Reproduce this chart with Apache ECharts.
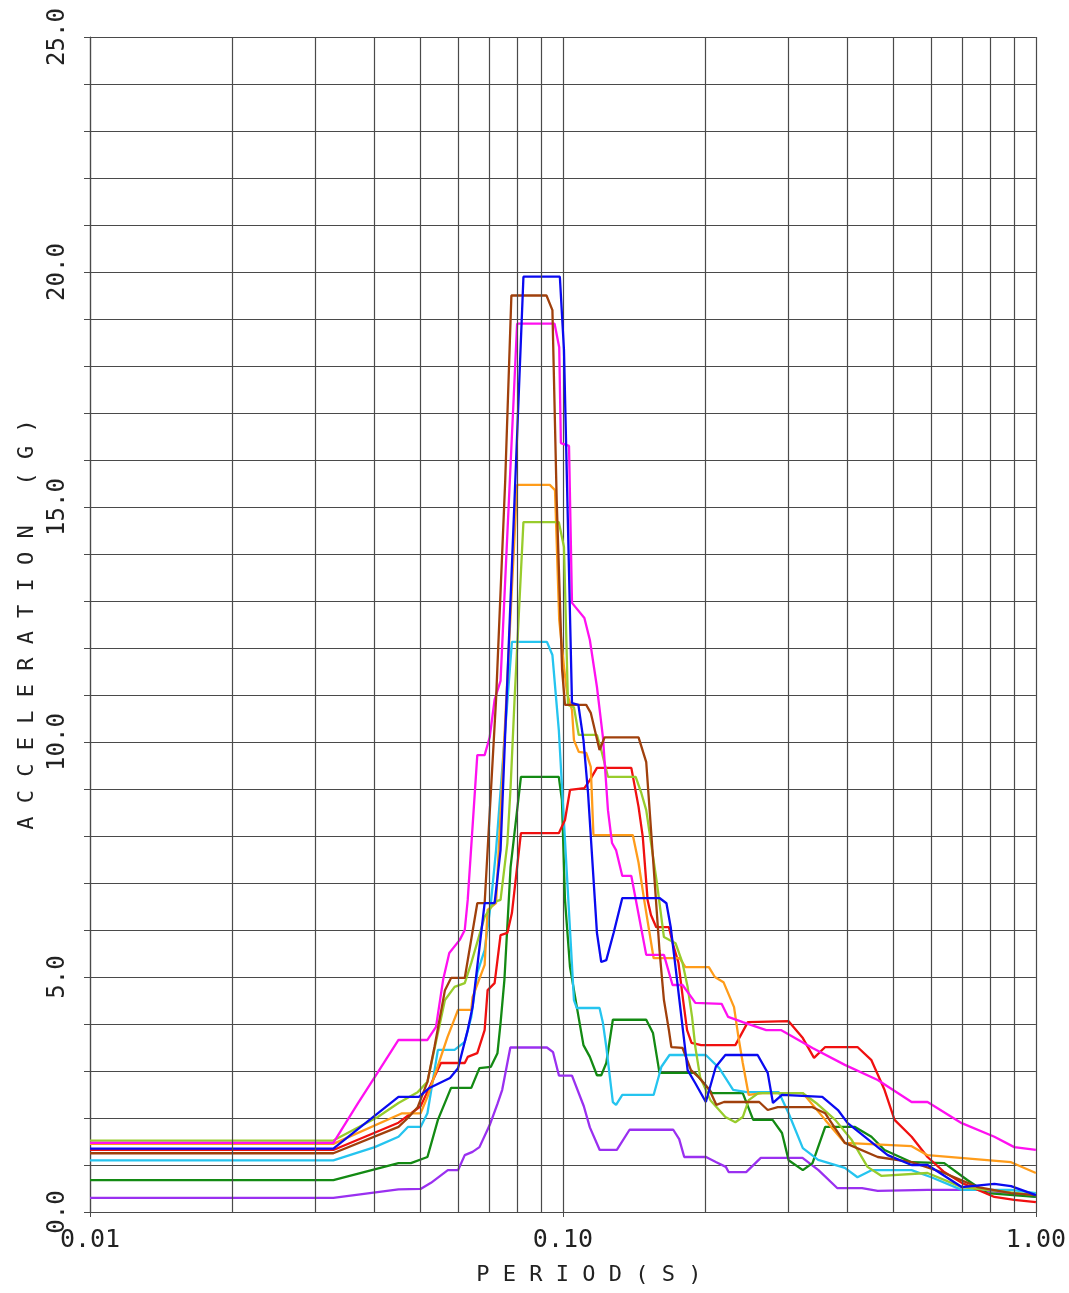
<!DOCTYPE html>
<html>
<head>
<meta charset="utf-8">
<title>Response spectra</title>
<script src="https://cdn.jsdelivr.net/npm/echarts@6/dist/echarts.min.js"></script>
<style>
  html, body { margin: 0; padding: 0; background: #ffffff; }
  #chart { width: 1069px; height: 1293px; }
</style>
</head>
<body>
<div id="chart"></div>
<script>
// Spectral acceleration (G) versus period (s), one [period, acceleration] list per record
const magenta = [[0.01,1.47],[0.0327,1.47],[0.0369,2.32],[0.04,2.87],[0.0449,3.66],[0.0517,3.66],[0.0539,3.94],[0.0558,4.94],[0.0575,5.51],[0.0605,5.79],[0.062,6.0],[0.0629,6.64],[0.0659,9.72],[0.0683,9.72],[0.07,10.1],[0.0717,10.9],[0.0738,11.3],[0.08,18.9],[0.096,18.9],[0.0982,18.4],[0.099,16.36],[0.103,16.3],[0.1045,12.96],[0.111,12.64],[0.114,12.17],[0.118,11.17],[0.1215,10.1],[0.1245,8.55],[0.127,7.85],[0.1295,7.7],[0.1335,7.15],[0.1395,7.15],[0.15,5.47],[0.1635,5.47],[0.1705,4.83],[0.179,4.83],[0.1875,4.55],[0.1905,4.45],[0.2165,4.43],[0.2235,4.15],[0.24,4.04],[0.269,3.87],[0.289,3.87],[0.337,3.49],[0.3945,3.13],[0.463,2.81],[0.546,2.34],[0.59,2.34],[0.697,1.89],[0.817,1.6],[0.9,1.38],[1.0,1.32]];

const blue = [[0.01,1.35],[0.0327,1.35],[0.0449,2.45],[0.0496,2.45],[0.0522,2.64],[0.0577,2.85],[0.06,3.06],[0.0629,3.87],[0.0644,4.36],[0.0683,6.57],[0.0717,6.57],[0.0738,7.7],[0.0825,19.9],[0.0985,19.9],[0.1005,18.34],[0.1045,10.83],[0.1078,10.79],[0.1105,10.04],[0.113,8.91],[0.118,5.94],[0.1205,5.32],[0.1235,5.36],[0.128,5.94],[0.1335,6.68],[0.16,6.68],[0.1655,6.57],[0.169,6.06],[0.173,5.21],[0.1835,3.02],[0.1905,2.74],[0.2005,2.34],[0.2105,3.09],[0.2205,3.34],[0.258,3.34],[0.271,2.96],[0.278,2.32],[0.2905,2.49],[0.3535,2.45],[0.3815,2.17],[0.4,1.89],[0.486,1.21],[0.546,1.0],[0.59,1.0],[0.697,0.53],[0.817,0.6],[0.886,0.55],[1.0,0.36]];

const brown = [[0.01,1.25],[0.0327,1.25],[0.0449,1.81],[0.047,2.0],[0.0493,2.23],[0.0517,2.77],[0.0535,3.51],[0.0563,4.72],[0.058,4.98],[0.062,4.98],[0.0659,6.57],[0.0683,6.57],[0.0722,10.9],[0.0755,15.57],[0.0778,19.5],[0.0923,19.5],[0.095,19.19],[0.097,15.15],[0.0996,11.53],[0.101,10.79],[0.112,10.79],[0.1145,10.62],[0.1195,9.83],[0.1225,10.1],[0.1445,10.1],[0.15,9.57],[0.1525,8.55],[0.16,5.57],[0.1635,4.51],[0.1675,3.87],[0.1695,3.51],[0.179,3.49],[0.1865,3.02],[0.1935,2.87],[0.204,2.6],[0.211,2.28],[0.219,2.34],[0.26,2.34],[0.271,2.17],[0.2845,2.23],[0.337,2.23],[0.3585,2.1],[0.3945,1.47],[0.463,1.17],[0.546,1.06],[0.64,0.83],[0.7535,0.53],[0.886,0.4],[1.0,0.36]];

const orange = [[0.01,1.45],[0.0327,1.45],[0.0457,2.1],[0.05,2.1],[0.0517,2.45],[0.057,3.72],[0.06,4.3],[0.064,4.3],[0.0644,4.57],[0.0683,5.26],[0.0693,6.43],[0.0722,6.57],[0.08,15.47],[0.0938,15.47],[0.0962,15.36],[0.0982,12.6],[0.1005,11.6],[0.102,11.04],[0.1045,10.68],[0.1055,10.04],[0.108,9.79],[0.112,9.77],[0.1145,9.47],[0.116,8.02],[0.1405,8.02],[0.1445,7.43],[0.1485,6.64],[0.1555,5.4],[0.1765,5.4],[0.1815,5.21],[0.2035,5.21],[0.2095,5.0],[0.2185,4.89],[0.23,4.36],[0.235,3.72],[0.24,3.17],[0.247,2.49],[0.264,2.53],[0.3215,2.53],[0.3585,1.96],[0.3945,1.47],[0.546,1.4],[0.59,1.21],[0.886,1.06],[1.0,0.83]];

const yellowGreen = [[0.01,1.52],[0.0327,1.52],[0.0406,2.02],[0.0449,2.32],[0.0493,2.55],[0.0517,2.77],[0.0563,4.51],[0.059,4.79],[0.062,4.87],[0.064,5.3],[0.0683,6.28],[0.0717,6.6],[0.0738,6.64],[0.0763,7.85],[0.0775,9.04],[0.079,10.89],[0.0825,14.68],[0.098,14.68],[0.1005,14.15],[0.1025,10.79],[0.1055,10.74],[0.108,10.15],[0.118,10.15],[0.1205,9.83],[0.1245,9.26],[0.1425,9.26],[0.1465,8.91],[0.15,8.55],[0.158,7.0],[0.1635,5.85],[0.173,5.72],[0.179,5.3],[0.1835,4.79],[0.1875,4.15],[0.1905,3.51],[0.195,2.87],[0.205,2.38],[0.2205,2.02],[0.2315,1.91],[0.24,2.02],[0.247,2.38],[0.259,2.53],[0.3215,2.53],[0.343,2.32],[0.3765,1.96],[0.408,1.53],[0.4405,0.96],[0.471,0.77],[0.59,0.83],[0.697,0.53],[1.0,0.36]];

const cyan = [[0.01,1.1],[0.0327,1.1],[0.04,1.38],[0.0449,1.6],[0.047,1.81],[0.05,1.81],[0.0517,2.1],[0.0544,3.45],[0.059,3.45],[0.062,3.62],[0.064,4.15],[0.0659,5.09],[0.0683,5.57],[0.0704,6.57],[0.0722,7.7],[0.078,12.13],[0.0925,12.13],[0.095,11.85],[0.098,10.26],[0.1055,4.51],[0.107,4.34],[0.1195,4.34],[0.1215,4.02],[0.1235,3.51],[0.1275,2.34],[0.1295,2.28],[0.1335,2.49],[0.1555,2.49],[0.1615,3.09],[0.168,3.34],[0.2005,3.34],[0.214,3.06],[0.229,2.6],[0.2445,2.55],[0.286,2.55],[0.3,2.1],[0.3215,1.36],[0.3465,1.11],[0.3945,0.94],[0.4195,0.74],[0.449,0.89],[0.546,0.89],[0.601,0.74],[0.697,0.47],[0.886,0.47],[1.0,0.4]];

const green = [[0.01,0.68],[0.0327,0.68],[0.0449,1.04],[0.0477,1.04],[0.0517,1.17],[0.0544,1.96],[0.058,2.64],[0.064,2.64],[0.0666,3.06],[0.0704,3.09],[0.0727,3.38],[0.0738,4.02],[0.0752,4.94],[0.0775,7.34],[0.0815,9.26],[0.098,9.26],[0.0995,8.77],[0.101,6.64],[0.1035,5.21],[0.107,4.36],[0.1105,3.55],[0.114,3.3],[0.118,2.91],[0.1205,2.91],[0.1235,3.17],[0.1275,4.09],[0.15,4.09],[0.155,3.81],[0.16,2.96],[0.1905,2.96],[0.2065,2.53],[0.24,2.53],[0.2525,1.96],[0.2775,1.96],[0.2905,1.68],[0.3,1.1],[0.3215,0.89],[0.337,1.04],[0.3585,1.81],[0.4145,1.81],[0.449,1.6],[0.4785,1.32],[0.546,1.06],[0.64,1.04],[0.716,0.68],[0.789,0.4],[1.0,0.32]];

const red = [[0.01,1.32],[0.0327,1.32],[0.0449,1.9],[0.05,2.25],[0.0525,2.7],[0.0552,3.17],[0.062,3.17],[0.0629,3.3],[0.0659,3.38],[0.0683,3.87],[0.0693,4.72],[0.0717,4.87],[0.0738,5.89],[0.0763,5.94],[0.078,6.36],[0.0815,8.06],[0.098,8.06],[0.101,8.34],[0.1035,8.98],[0.111,9.02],[0.114,9.19],[0.118,9.45],[0.1395,9.45],[0.1445,8.62],[0.1475,7.98],[0.151,6.64],[0.1535,6.32],[0.1575,6.06],[0.1675,6.06],[0.1715,5.64],[0.1755,5.3],[0.1795,4.51],[0.183,3.87],[0.187,3.6],[0.196,3.55],[0.2315,3.55],[0.246,4.04],[0.3,4.06],[0.3215,3.7],[0.3395,3.28],[0.3585,3.51],[0.4195,3.51],[0.449,3.23],[0.4785,2.6],[0.5025,1.96],[0.546,1.6],[0.59,1.17],[0.64,0.85],[0.697,0.62],[0.817,0.32],[0.9,0.26],[1.0,0.21]];

const purple = [[0.01,0.3],[0.0327,0.3],[0.0449,0.48],[0.05,0.49],[0.0526,0.62],[0.0571,0.89],[0.06,0.89],[0.062,1.21],[0.0644,1.28],[0.0666,1.38],[0.07,1.85],[0.0727,2.3],[0.0744,2.6],[0.0774,3.5],[0.0925,3.5],[0.0953,3.4],[0.0981,2.9],[0.1045,2.9],[0.1107,2.25],[0.114,1.8],[0.1196,1.32],[0.13,1.32],[0.1383,1.75],[0.1711,1.75],[0.1761,1.55],[0.1805,1.17],[0.2007,1.17],[0.211,1.06],[0.221,0.96],[0.224,0.85],[0.244,0.85],[0.262,1.15],[0.321,1.15],[0.347,0.89],[0.38,0.51],[0.429,0.51],[0.463,0.45],[0.59,0.47],[0.752,0.47],[0.886,0.4],[1.0,0.32]];

// Intermediate decade lines of the log period axis
const minorPeriods = [0.02,0.03,0.04,0.05,0.06,0.07,0.08,0.09,0.2,0.3,0.4,0.5,0.6,0.7,0.8,0.9];

const records = [
  { data: purple, color: '#9a30f0' },
  { data: green, color: '#138a13' },
  { data: cyan, color: '#25c4ef' },
  { data: red, color: '#f01010' },
  { data: orange, color: '#ff9c1a' },
  { data: yellowGreen, color: '#98cc2c' },
  { data: magenta, color: '#ff10f0' },
  { data: brown, color: '#a0400c' },
  { data: blue, color: '#0a0af0' }
];

const gridColor = '#4a4a4a';
const monoFont = "'DejaVu Sans Mono', 'Liberation Mono', monospace";

const chart = echarts.init(document.getElementById('chart'), null, { renderer: 'canvas' });

const series = [{
  type: 'line',
  data: [],
  silent: true,
  z: 1,
  markLine: {
    silent: true,
    animation: false,
    symbol: ['none', 'none'],
    label: { show: false },
    emphasis: { disabled: true },
    lineStyle: { color: gridColor, width: 1.2, type: 'solid' },
    data: minorPeriods.map(p => ({ xAxis: p }))
  }
}].concat(records.map(r => ({
  type: 'line',
  data: r.data,
  showSymbol: false,
  symbol: 'none',
  z: 3,
  lineStyle: { color: r.color, width: 2.3 },
  itemStyle: { color: r.color },
  emphasis: { disabled: true }
})));

chart.setOption({
  animation: false,
  backgroundColor: '#ffffff',
  grid: { left: 90, right: 27, top: 37, bottom: 81 },
  xAxis: {
    type: 'log',
    logBase: 10,
    min: 0.01,
    max: 1,
    name: 'P E R I O D ( S )',
    nameLocation: 'middle',
    nameGap: 52,
    nameTextStyle: { fontFamily: monoFont, fontSize: 22, color: '#222', padding: [0, 0, 0, 52] },
    axisLine: { show: true, onZero: false, lineStyle: { color: gridColor, width: 1.2 } },
    axisTick: { show: true, length: 5, lineStyle: { color: gridColor } },
    splitLine: { show: true, lineStyle: { color: gridColor, width: 1.2 } },
    axisLabel: {
      fontFamily: monoFont,
      fontSize: 25,
      color: '#222',
      margin: 16,
      formatter: v => v.toFixed(2)
    }
  },
  yAxis: {
    type: 'value',
    min: 0,
    max: 25,
    interval: 1,
    name: 'A C C E L E R A T I O N   ( G )',
    nameLocation: 'middle',
    nameGap: 52,
    nameTextStyle: { fontFamily: monoFont, fontSize: 22, color: '#222' },
    axisLine: { show: true, lineStyle: { color: gridColor, width: 1.2 } },
    axisTick: { show: true, length: 6, lineStyle: { color: gridColor } },
    splitLine: { show: true, lineStyle: { color: gridColor, width: 1.2 } },
    axisLabel: {
      rotate: 90,
      fontFamily: monoFont,
      fontSize: 24,
      color: '#222',
      margin: 20,
      formatter: v => (Math.round(v) % 5 === 0 ? v.toFixed(1) : '')
    }
  },
  series: series
});
</script>
</body>
</html>
